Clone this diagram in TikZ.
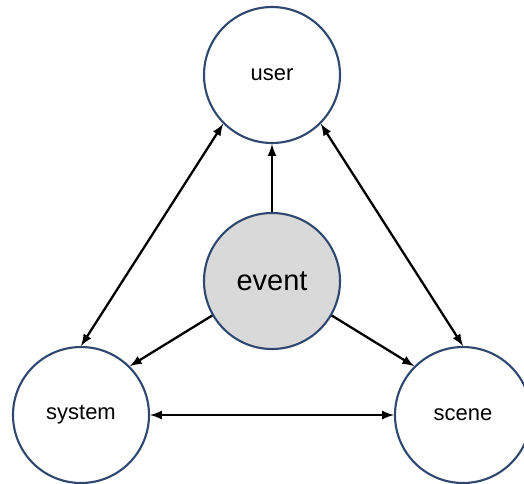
\documentclass[tikz,border=0pt]{standalone}
\usepackage{fontspec}
\setsansfont{Liberation Sans}
\usepackage{tikz}
\usetikzlibrary{positioning,arrows}
\definecolor{rimblue}{RGB}{47,72,112}
\definecolor{eventgray}{RGB}{217,217,217}
\tikzset{
	actor/.style={circle,draw=rimblue,line width=1.2pt,fill=white,inner sep=0pt,
		minimum size=2.72cm,font=\sffamily\fontsize{12.5}{14}\selectfont},
	centre/.style={actor,fill=eventgray,font=\sffamily\fontsize{16.5}{18}\selectfont},
	link/.style={line width=1.3pt,-latex},
	both/.style={line width=1.3pt,latex-latex}
}

\begin{document}
\begin{tikzpicture}
	\def\largeur{10.48}
	\def\hauteur{9.66}
\useasboundingbox (0,0) rectangle (\largeur,-\hauteur);
\clip (0,0) rectangle (\largeur,-\hauteur); % circles run off the bottom and right edge

%Sommets
\node[actor] (user) at (5.44,-1.5) {user};
\node[centre] (event) at (5.44,-5.62) {event};
\node[actor] (system) at (1.62,-8.3) {system};
\node[actor] (scene) at (9.26,-8.3) {scene};

%Fleches depuis event
\draw[link] (event) -- (user);
\draw[link] (event.210) -- (system.45);
\draw[link] (event.-30) -- (scene.135);

%Fleches du triangle
\draw[both] (user.-135) -- (system.north);
\draw[both] (user.-45) -- (scene.north);
\draw[both] (system) -- (scene);
\end{tikzpicture}
\end{document}
